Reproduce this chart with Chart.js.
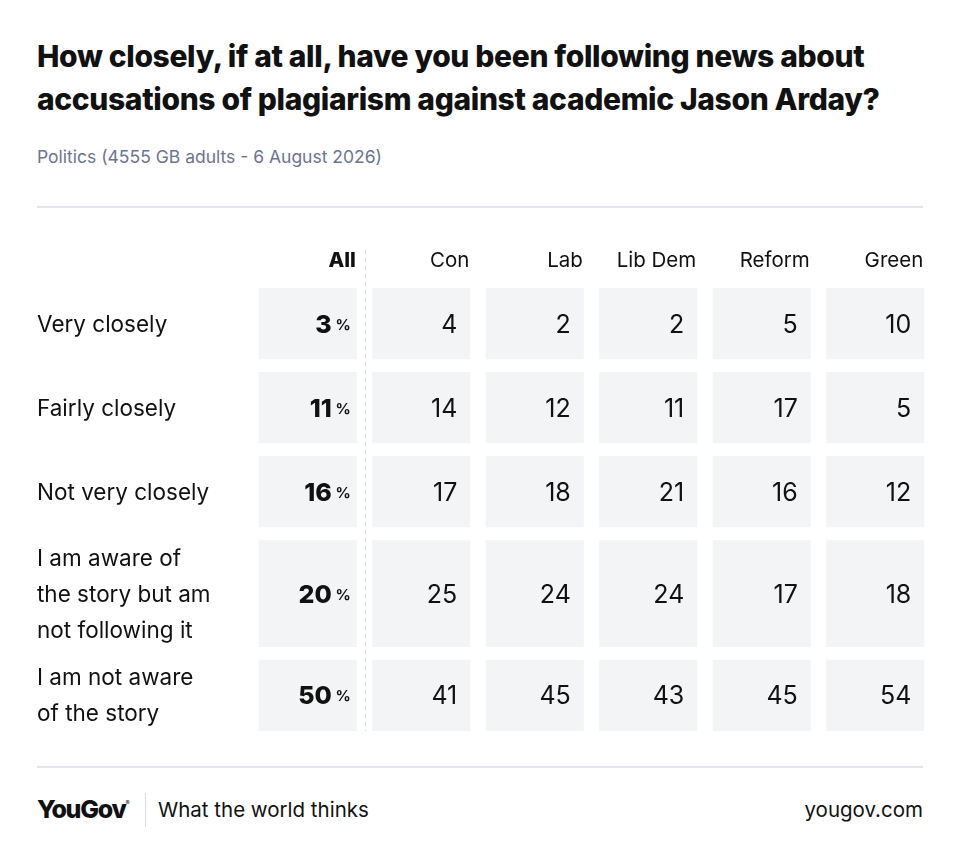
<!DOCTYPE html>
<html lang="en">
<head>
<meta charset="UTF-8">
<meta name="viewport" content="width=device-width, initial-scale=1.0">
<title>Jason Arday plagiarism news</title>
<script src="https://cdn.jsdelivr.net/npm/chart.js"></script>
<style>
  body { margin: 0; width: 960px; height: 863px; background: #fff; color: #111;
         font-family: Inter, "Open Sans", sans-serif; position: relative; overflow: hidden; }
  h1 { position: absolute; left: 37px; top: 35px; margin: 0; width: 910px;
       font-size: 30px; line-height: 43px; font-weight: 800; letter-spacing: -0.35px; }
  .sub { position: absolute; left: 37px; top: 146px; font-size: 17.5px; color: #6b7590; }
  .rule { position: absolute; left: 37px; width: 886px; height: 2px; background: #e3e5ea; }
  .box { position: absolute; left: 0; top: 230px; width: 960px; height: 520px; }
  .logo { position: absolute; left: 37px; top: 794px; font-size: 25px; font-weight: 800; letter-spacing: -1.3px; }
  .logo sup { font-size: 6px; font-weight: 400; letter-spacing: 0; vertical-align: 13px; }
  .sep { position: absolute; left: 145px; top: 793px; width: 1px; height: 34px; background: #d6d8dd; }
  .tag { position: absolute; left: 158px; top: 797px; font-size: 20.5px; }
  .url { position: absolute; right: 37px; top: 797px; font-size: 20.5px; }
</style>
</head>
<body>
  <h1>How closely, if at all, have you been following news about accusations of plagiarism against academic Jason Arday?</h1>
  <div class="sub">Politics (4555 GB adults - 6 August 2026)</div>
  <div class="rule" style="top:206px"></div>
  <div class="box"><canvas id="tableChart" width="960" height="520"></canvas></div>
  <div class="rule" style="top:766px"></div>
  <div class="logo">YouGov<sup>®</sup></div>
  <div class="sep"></div>
  <div class="tag">What the world thinks</div>
  <div class="url">yougov.com</div>
<script>
const columns = ['All', 'Con', 'Lab', 'Lib Dem', 'Reform', 'Green'];
const rowLabels = [
  ['Very closely'],
  ['Fairly closely'],
  ['Not very closely'],
  ['I am aware of', 'the story but am', 'not following it'],
  ['I am not aware', 'of the story']
];
const allAdults = [3, 11, 16, 20, 50];
const con = [4, 14, 17, 25, 41];
const lab = [2, 12, 18, 24, 45];
const libDem = [2, 11, 21, 24, 43];
const reform = [5, 17, 16, 17, 45];
const green = [10, 5, 12, 18, 54];
const byColumn = [allAdults, con, lab, libDem, reform, green];

// each row is as tall as its label (min two half-rows), in units of one label line
const ROW_GAP = 0.36;
let cursor = 0;
const rowSpans = rowLabels.map(lines => {
  const h = Math.max(2, lines.length);
  const span = [cursor, cursor + h];
  cursor += h + ROW_GAP;
  return span;
});
const yMax = cursor - ROW_GAP;

const FONT = 'Inter, "Open Sans", sans-serif';
const INK = '#111111';

const tableText = {
  id: 'tableText',
  afterDatasetsDraw(chart) {
    const ctx = chart.ctx;
    const area = chart.chartArea;
    const yScale = chart.scales.y;
    ctx.save();
    ctx.fillStyle = INK;
    ctx.textBaseline = 'alphabetic';

    // cells
    chart.data.datasets.forEach((ds, r) => {
      chart.getDatasetMeta(r).data.forEach((bar, c) => {
        const p = bar.getProps(['x', 'y', 'base', 'width'], true);
        const right = p.x + p.width / 2;
        const mid = (p.y + p.base) / 2;
        const v = byColumn[c][r];
        ctx.textAlign = 'right';
        if (c === 0) {
          ctx.font = '700 15px ' + FONT;
          ctx.fillText('%', right - 6, mid + 6);
          ctx.font = '800 25px ' + FONT;
          ctx.fillText(String(v), right - 25, mid + 9);
        } else {
          ctx.font = '400 25px ' + FONT;
          ctx.fillText(String(v), right - 13, mid + 9);
        }
      });
    });

    // row labels
    ctx.font = '400 22.5px ' + FONT;
    ctx.textAlign = 'left';
    rowLabels.forEach((lines, r) => {
      const mid = yScale.getPixelForValue((rowSpans[r][0] + rowSpans[r][1]) / 2);
      lines.forEach((line, i) => {
        ctx.fillText(line, 37, mid + 8 + (i - (lines.length - 1) / 2) * 36);
      });
    });

    // column headers, right-aligned to their cells
    ctx.textAlign = 'right';
    const firstRow = chart.getDatasetMeta(0).data;
    firstRow.forEach((bar, c) => {
      const p = bar.getProps(['x', 'width'], true);
      ctx.font = (c === 0 ? '800 ' : '400 ') + '20.5px ' + FONT;
      ctx.fillText(columns[c], p.x + p.width / 2 - 1, area.top - 21);
    });

    // dashed divider after "All"
    const a = firstRow[0].getProps(['x', 'width'], true);
    const b = firstRow[1].getProps(['x', 'width'], true);
    const xd = Math.round(((a.x + a.width / 2) + (b.x - b.width / 2)) / 2) + 0.5;
    ctx.strokeStyle = '#cfd2d8';
    ctx.lineWidth = 1;
    ctx.setLineDash([4, 4]);
    ctx.beginPath();
    ctx.moveTo(xd, area.top - 38);
    ctx.lineTo(xd, area.bottom);
    ctx.stroke();
    ctx.restore();
  }
};

new Chart(document.getElementById('tableChart'), {
  type: 'bar',
  data: {
    labels: columns,
    datasets: rowLabels.map((lines, r) => ({
      label: lines.join(' '),
      data: columns.map(() => rowSpans[r].slice()),
      backgroundColor: '#f3f4f6',
      borderWidth: 0,
      borderSkipped: false,
      grouped: false,
      barPercentage: 1,
      categoryPercentage: 0.864
    }))
  },
  options: {
    responsive: false,
    animation: false,
    events: [],
    layout: { padding: { left: 251, right: 28, top: 58, bottom: 19 } },
    plugins: { legend: { display: false }, tooltip: { enabled: false } },
    scales: {
      x: { type: 'category', offset: true, display: false },
      y: { type: 'linear', min: 0, max: yMax, reverse: true, display: false }
    }
  },
  plugins: [tableText]
});
</script>
</body>
</html>
